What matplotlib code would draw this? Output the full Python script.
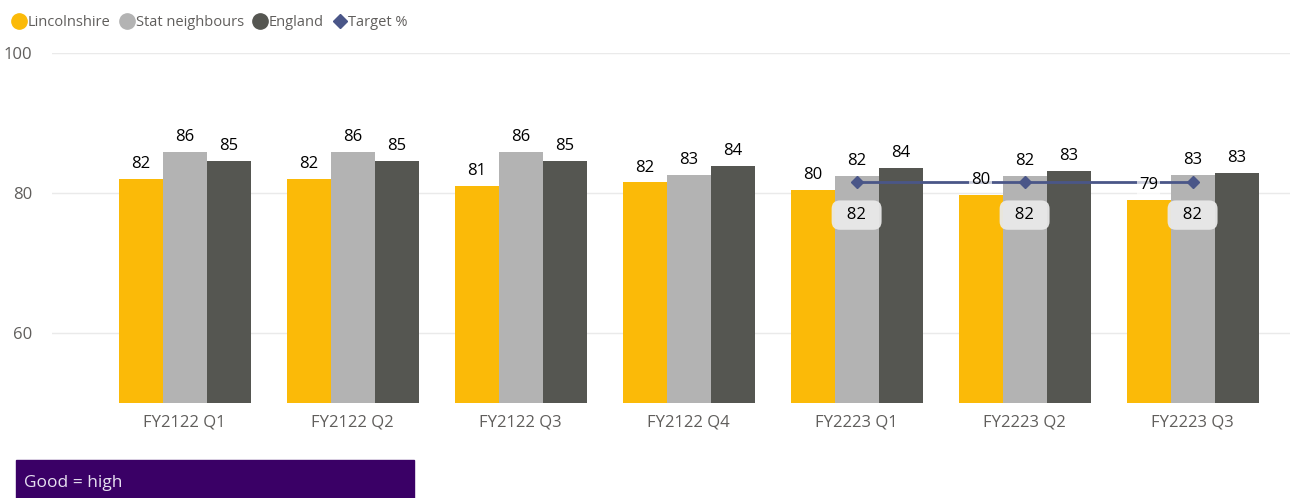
import numpy as np
import matplotlib
matplotlib.use("Agg")
import matplotlib.pyplot as plt
from matplotlib.lines import Line2D
from matplotlib.patches import Rectangle

plt.rcParams['font.family'] = ['Open Sans', 'DejaVu Sans']

quarters = ['FY2122 Q1', 'FY2122 Q2', 'FY2122 Q3', 'FY2122 Q4',
            'FY2223 Q1', 'FY2223 Q2', 'FY2223 Q3']
lincs = [82.0, 82.0, 81.0, 81.5, 80.4, 79.7, 79.0]
stat_nb = [85.8, 85.8, 85.8, 82.6, 82.4, 82.4, 82.6]
england = [84.6, 84.6, 84.6, 83.9, 83.6, 83.1, 82.9]
target_idx = [4, 5, 6]
target = [81.6, 81.6, 81.6]

c_lincs = '#FBBA08'
c_stat = '#B3B3B3'
c_eng = '#555651'
c_target = '#4A5688'
c_text = '#605E5C'

fig = plt.figure(figsize=(12.9, 4.98), dpi=100)
ax = fig.add_axes([0.0403, 0.1908, 0.9597, 0.7028])

x = np.arange(len(quarters))
w = 0.262

b1 = ax.bar(x - w, lincs, w, color=c_lincs, zorder=2)
b2 = ax.bar(x, stat_nb, w, color=c_stat, zorder=2)
b3 = ax.bar(x + w, england, w, color=c_eng, zorder=2)

ax.plot(target_idx, target, color=c_target, lw=2, marker='D', ms=6, zorder=3)

# data labels above each bar
for bars, vals, bg in [(b1, lincs, True), (b2, stat_nb, False), (b3, england, False)]:
    for r, v in zip(bars, vals):
        kw = {}
        if bg:
            kw['bbox'] = dict(boxstyle='square,pad=0.1', fc='white', ec='none', alpha=0.7)
        ax.annotate('%d' % round(v), (r.get_x() + r.get_width() / 2, v),
                    xytext=(0, 5), textcoords='offset points', ha='center', va='bottom',
                    fontsize=12, color='black', zorder=5, **kw)

# target labels in rounded boxes
for i, t in zip(target_idx, target):
    ax.annotate('  %d  ' % round(t), (i, t), xytext=(0, -24), textcoords='offset points',
                ha='center', va='center', fontsize=12, color='black', zorder=6,
                bbox=dict(boxstyle='round,pad=0.4,rounding_size=0.5', fc='#E9E9E9',
                          ec='none', alpha=0.95))

ax.set_xlim(-0.79, 6.58)
ax.set_ylim(50, 100)
ax.set_yticks([60, 80, 100])
ax.set_xticks(x)
ax.set_xticklabels(quarters)
ax.tick_params(axis='both', length=0, labelsize=12, labelcolor=c_text)
ax.tick_params(axis='x', pad=8)
ax.tick_params(axis='y', pad=14)
ax.grid(axis='y', color='#EAEAEA', lw=1, zorder=0)
for s in ax.spines.values():
    s.set_visible(False)

handles = [Line2D([], [], ls='none', marker='o', ms=11, color=c_lincs),
           Line2D([], [], ls='none', marker='o', ms=11, color=c_stat),
           Line2D([], [], ls='none', marker='o', ms=11, color=c_eng),
           Line2D([], [], ls='none', marker='D', ms=7, color=c_target)]
fig.legend(handles, ['Lincolnshire', 'Stat neighbours', 'England', 'Target %'],
           loc='upper left', bbox_to_anchor=(-0.002, 0.997), ncol=4, frameon=False,
           fontsize=10.5, labelcolor=c_text, handletextpad=0.0, columnspacing=0.5,
           handlelength=1.2)

fig.patches.append(Rectangle((16 / 1290, 0), 398 / 1290, 38 / 498,
                             transform=fig.transFigure, color='#3A0066', zorder=0))
fig.text(24 / 1290, 15 / 498, 'Good = high', color='#E6E0F0', fontsize=12.5, va='center')

fig.savefig('out.png', dpi=100)
